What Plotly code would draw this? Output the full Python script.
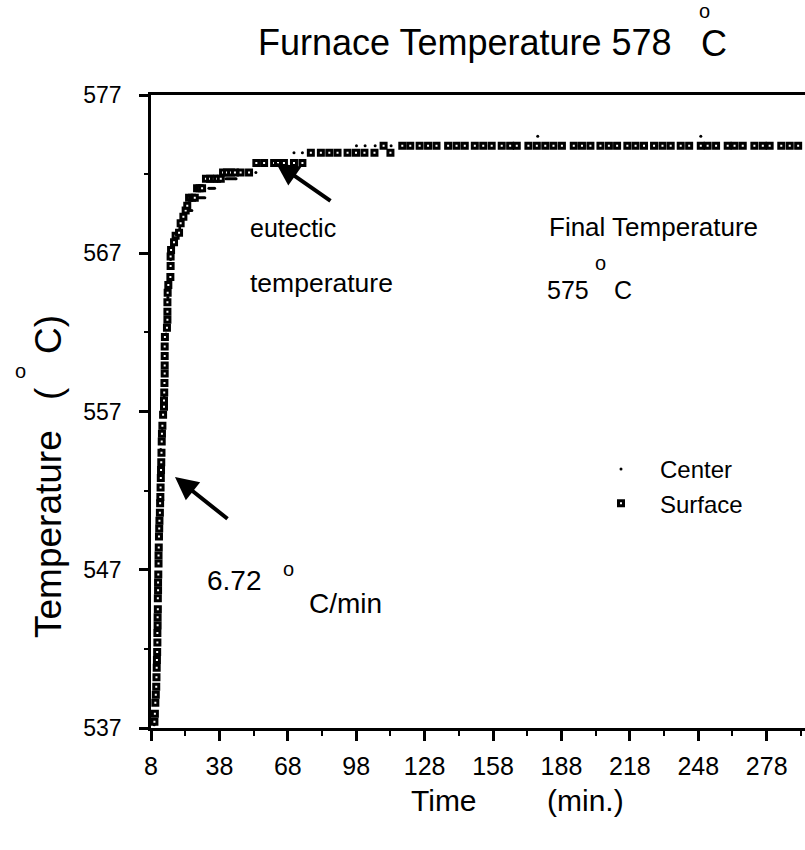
import plotly.graph_objects as go

# ---------------- data ----------------
surface_t = [9.5, 9.7, 9.9, 10.1, 10.3, 10.4, 10.5, 10.6, 10.7, 10.8, 10.8, 10.9, 10.9, 11.0, 11.0, 11.1, 11.1, 11.2, 11.3,
             11.3, 11.4, 11.5, 11.6, 11.7, 11.9, 12.0, 12.1, 12.2, 12.3, 12.4, 12.5, 12.6, 12.7, 12.8, 13.0, 13.3, 13.7,
             13.7, 13.8, 13.9, 14.0, 14.0, 14.0, 14.0, 14.1, 15.0, 15.2, 15.2, 15.2, 15.3, 15.6, 16.5, 16.6, 16.6, 16.8,
             18.1, 18.8, 20.3, 21.0, 22.2, 23.2, 23.9, 24.7, 26.0, 27.2, 28.2, 29.3, 30.4, 32.1, 33.9, 35.6, 37.0, 38.6,
             39.6, 41.3, 43.1, 44.8, 47.3, 51.0, 54.2, 57.6, 62.0, 63.7, 66.3, 70.7, 74.4,
             78.1, 82.5, 86.2, 89.8, 94.2, 97.9, 101.6, 106.0, 110.0, 113.0, 118.2,
             121.7, 125.8, 129.5, 133.2, 138.3, 142.0, 145.6, 150.0, 153.7, 157.4, 161.8, 165.5, 168.4, 173.5,
             177.2, 180.9, 184.5, 188.2, 193.4, 197.0, 200.7, 205.1, 208.8, 212.4, 216.9, 220.5, 224.2, 228.6,
             232.3, 235.9, 240.3, 244.0, 249.1, 252.1, 255.8, 260.9, 263.9, 267.5, 272.6, 276.3, 279.3, 284.4,
             288.1, 291.8]
surface_T = [537.4, 537.9, 538.6, 539.1, 539.6, 540.2, 540.8, 541.3, 541.8, 542.4, 543.0, 543.5, 544.0, 544.5, 545.2, 545.7, 546.2, 546.7, 547.4,
             547.9, 548.4, 549.1, 549.6, 550.1, 550.6, 551.2, 551.6, 552.2, 552.8, 553.3, 553.8, 554.4, 555.1, 555.6, 556.1, 556.8, 557.3,
             557.7, 558.2, 558.8, 559.4, 559.9, 560.5, 561.1, 561.7, 562.3, 562.8, 563.3, 563.9, 564.5, 565.0, 565.5, 566.2, 566.8, 567.2,
             567.7, 568.1, 568.3, 568.9, 569.3, 569.7, 570.0, 570.5, 570.5, 570.5, 571.1, 571.1, 571.1, 571.7, 571.7, 571.7, 571.7, 571.7,
             572.1, 572.1, 572.1, 572.1, 572.1, 572.1, 572.7, 572.7, 572.7, 572.7, 572.7, 572.7, 572.7,
             573.35, 573.35, 573.35, 573.35, 573.35, 573.35, 573.35, 573.35, 573.8, 573.35, 573.8,
             573.8, 573.8, 573.8, 573.8, 573.8, 573.8, 573.8, 573.8, 573.8, 573.8, 573.8, 573.8, 573.8, 573.8,
             573.8, 573.8, 573.8, 573.8, 573.8, 573.8, 573.8, 573.8, 573.8, 573.8, 573.8, 573.8, 573.8, 573.8,
             573.8, 573.8, 573.8, 573.8, 573.8, 573.8, 573.8, 573.8, 573.8, 573.8, 573.8, 573.8, 573.8, 573.8,
             573.8, 573.8]

center_t = [9.4, 9.9, 10.4, 10.8, 11.1, 11.6, 12.25, 12.9, 13.8, 14.6, 15.4, 16.6, 18.4, 20.6, 22.5,
            24.3, 24.8, 25.3, 25.9,
            27.6, 28.1, 28.6, 29.1, 29.6, 30.1, 30.6, 31.1, 31.6,
            33.4, 33.9, 34.4, 34.9, 35.4, 35.9,
            40.9, 41.4, 41.9, 42.4, 42.9, 43.4, 43.9, 44.4, 44.9, 45.3,
            54.0, 70.7, 74.4, 98.1, 101.9, 106.3, 113.3, 177.6, 249.1]
center_T = [537.2, 538.6, 540.2, 542.4, 545.7, 549.6, 554.6, 555.8, 558.0, 561.9, 564.2, 566.6, 568.0, 568.6, 569.4,
            569.7, 569.7, 569.7, 569.7,
            570.5, 570.5, 570.5, 570.5, 570.5, 570.5, 570.5, 570.5, 570.5,
            571.1, 571.1, 571.1, 571.1, 571.1, 571.1,
            571.7, 571.7, 571.7, 571.7, 571.7, 571.7, 571.7, 571.7, 571.7, 571.7,
            572.1, 573.35, 573.35, 573.8, 573.8, 573.8, 573.8, 574.4, 574.4]

x_ticks = [8, 38, 68, 98, 128, 158, 188, 218, 248, 278]
x_minor = [23, 53, 83, 113, 143, 173, 203, 233, 263, 293]
y_ticks = [537, 547, 557, 567, 577]
y_minor = [542, 552, 562, 572]

# ---------------- layout geometry ----------------
W, H = 805, 850
L, R, T, B = 151, 0, 95, 122
X0, X1 = 8, 294.8
Y0, Y1 = 537, 577
PW, PH = W - L - R, H - T - B


def px2x(px):
    return X0 + (px - L) / PW * (X1 - X0)


def py2y(py):
    return Y0 + (H - B - py) / PH * (Y1 - Y0)


def ppx(px):
    return (px - L) / PW


def ppy(py):
    return (H - B - py) / PH


FONT = "Liberation Sans, Arial, Helvetica, sans-serif"

fig = go.Figure()
fig.add_trace(go.Scatter(
    x=center_t, y=center_T, mode="markers", name="Center",
    legendgroup="c",
    marker=dict(symbol="circle", size=3, color="black", line=dict(width=0)),
))
fig.add_trace(go.Scatter(
    x=surface_t, y=surface_T, mode="markers", name="Surface",
    legendgroup="s",
    marker=dict(symbol="square", size=5, color="white", line=dict(width=3, color="black")),
))

ann = []


def text(px, py, s, size, xanchor="left", angle=0, xref="x"):
    if xref == "x":
        ann.append(dict(x=px2x(px), y=py2y(py), xref="x", yref="y", text=s, showarrow=False,
                        xanchor=xanchor, yanchor="middle", textangle=angle,
                        font=dict(family=FONT, size=size, color="black")))
    else:
        ann.append(dict(x=ppx(px), y=ppy(py), xref="paper", yref="paper", text=s, showarrow=False,
                        xanchor=xanchor, yanchor="middle", textangle=angle,
                        font=dict(family=FONT, size=size, color="black")))


# title
text(465, 43, "Furnace Temperature 578", 36, "center", xref="paper")
text(704, 11, "o", 20, "center", xref="paper")
text(714, 44, "C", 36, "center", xref="paper")
# axis titles
text(444, 800, "Time", 30, "center", xref="paper")
text(585, 800, "(min.)", 30, "center", xref="paper")
text(48, 534, "Temperature", 37, "center", angle=-90, xref="paper")
text(48, 394, "(", 37, "center", angle=-90, xref="paper")
text(48, 335, "C)", 37, "center", angle=-90, xref="paper")
text(20, 371, "o", 20, "center", xref="paper")
# annotations in plot
text(248, 228, "eutectic", 25)
text(248, 283, "temperature", 26.5)
text(547, 227, "Final Temperature", 26)
text(545, 290, "575", 25)
text(600, 263, "o", 20, "center")
text(612, 290, "C", 25)
text(205, 580, "6.72", 28)
text(288, 569, "o", 20, "center")
text(307, 603, "C/min", 28)

# arrows
for (hx, hy, tx_, ty_) in [(276, 163, 332, 202), (175, 477, 229, 520)]:
    ann.append(dict(x=px2x(hx), y=py2y(hy), xref="x", yref="y", ax=tx_ - hx, ay=ty_ - hy,
                    text="", showarrow=True, arrowhead=2, arrowsize=1.15, arrowwidth=4,
                    arrowcolor="black", standoff=0))

fig.update_layout(
    width=W, height=H, autosize=False,
    margin=dict(l=L, r=R, t=T, b=B, pad=0),
    paper_bgcolor="white", plot_bgcolor="white",
    font=dict(family=FONT, size=22, color="black"),
    showlegend=True,
    legend=dict(x=ppx(582), y=ppy(447), xanchor="left", yanchor="top",
                bgcolor="rgba(0,0,0,0)", font=dict(family=FONT, size=24),
                tracegroupgap=0, itemsizing="trace", itemwidth=68),
    annotations=ann,
)
fig.update_xaxes(
    range=[X0, X1], tickvals=x_ticks, ticktext=[str(v) for v in x_ticks],
    ticks="outside", ticklen=10, tickwidth=2.5, tickcolor="black",
    showline=True, linewidth=2.5, linecolor="black", mirror=True,
    showgrid=False, zeroline=False, ticklabelstandoff=4,
    tickfont=dict(family=FONT, size=25),
    minor=dict(tickvals=x_minor, ticks="outside", ticklen=5, tickwidth=2, tickcolor="black", showgrid=False),
)
fig.update_yaxes(
    range=[Y0, Y1], tickvals=y_ticks, ticktext=[str(v) for v in y_ticks],
    ticks="outside", ticklen=9, tickwidth=2.5, tickcolor="black",
    showline=True, linewidth=2.5, linecolor="black", mirror=False,
    showgrid=False, zeroline=False, ticklabelstandoff=13,
    tickfont=dict(family=FONT, size=23),
    minor=dict(tickvals=y_minor, ticks="outside", ticklen=4, tickwidth=2, tickcolor="black", showgrid=False),
)

fig.write_html("out.html")
